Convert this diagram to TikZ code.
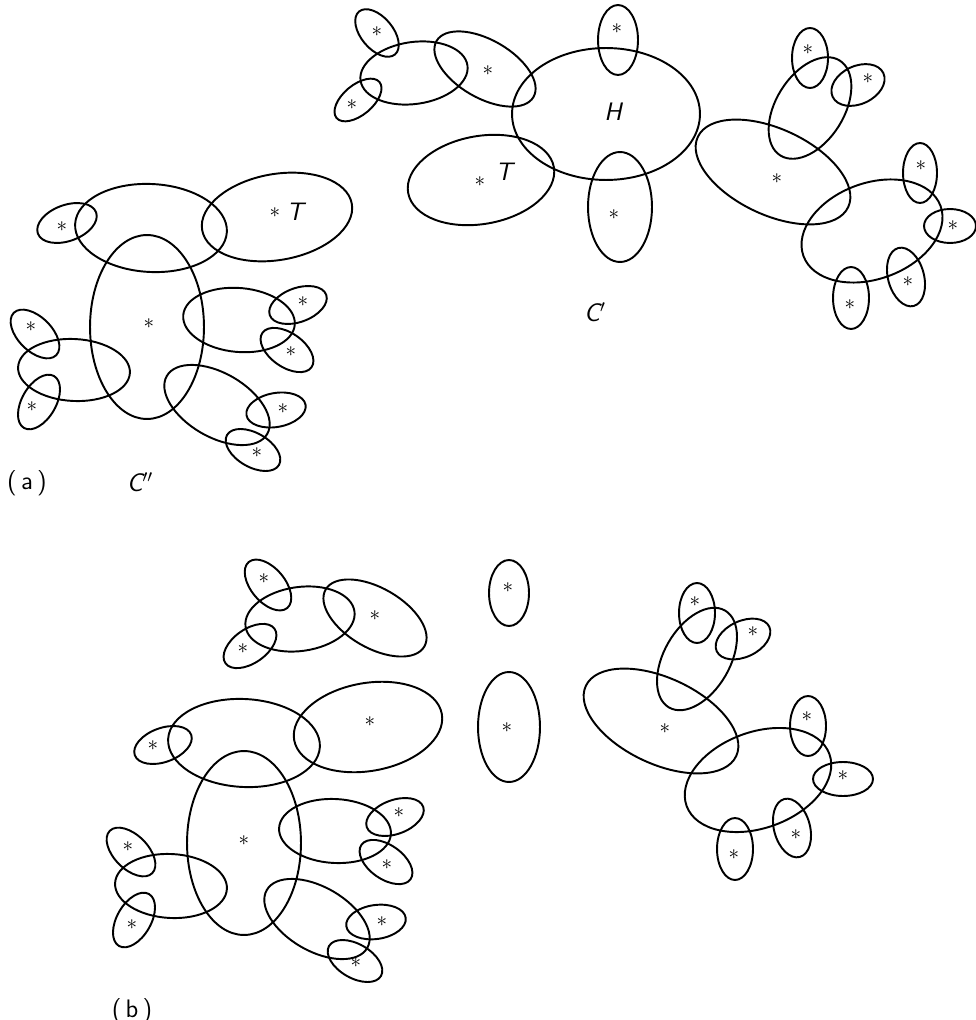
\documentclass[tikz,border=0pt]{standalone}
\usepackage{tikz}
\usetikzlibrary{shapes.geometric}
\tikzset{
  ov/.style={draw, ellipse, inner sep=0pt, line width=1.1pt},
  ast/.style={inner sep=0pt, font=\large},
  lab/.style={inner sep=0pt, font=\sffamily\itshape\Large},
  partlab/.style={inner sep=0pt, font=\sffamily\Large}
}
\newcommand\Ell[6]{\node[ov, minimum width=#4*0.04cm, minimum height=#5*0.04cm, rotate=#6] (#1) at (#2,#3) {};}
\newcommand\Ast[3]{\node[ast] (#1) at (#2,#3) {$\ast$};}
\begin{document}
\begin{tikzpicture}[x=0.02cm, y=-0.02cm]
\useasboundingbox (0,0) rectangle (976,1020);
% ---------- (a) C'
\Ell{a1}{377}{33}{28}{16}{-50} \Ast{sa1}{377}{32}
\Ell{a2}{358}{100}{28}{15}{40} \Ast{sa2}{352}{105}
\Ell{a3}{414}{73}{54}{31}{8}
\Ell{a4}{485}{69}{56}{29}{-30} \Ast{sa4}{488}{71}
\Ell{aH}{606}{114}{94}{66}{0} \node[lab] (H) at (613,112) {H};
\Ell{a6}{618}{40}{20}{35}{0} \Ast{sa6}{617}{29}
\Ell{aT}{481}{180}{74}{44}{10} \Ast{saT}{480}{182} \node[lab] (T1) at (504,172) {T};
\Ell{a8}{620}{207}{32}{55}{0} \Ast{sa8}{614}{215}
\Ell{a9}{773}{172}{83}{43}{-25} \Ast{sa9}{777}{179}
\Ell{a10}{810}{108}{56}{34}{58}
\Ell{a11}{810}{58}{18}{30}{0} \Ast{sa11}{808}{50}
\Ell{a12}{858}{85}{28}{19}{25} \Ast{sa12}{868}{79}
\Ell{a13}{872}{231}{73}{48}{20}
\Ell{a14}{920}{173}{17}{30}{0} \Ast{sa14}{921}{166}
\Ell{a15}{950}{226}{26}{17}{0} \Ast{sa15}{953}{226}
\Ell{a16}{906}{277}{30}{18}{-75} \Ast{sa16}{908}{282}
\Ell{a17}{851}{298}{18}{31}{0} \Ast{sa17}{850}{305}
\node[lab] (Cp) at (595,312) {C$'$};
% ---------- (a) C''
\Ell{c1}{67}{223}{31}{18}{20} \Ast{sc1}{62}{227}
\Ell{c2}{151}{228}{76}{44}{-3}
\Ell{cT}{277}{217}{76}{43}{10} \Ast{scT}{275}{213} \node[lab] (T2) at (295,212) {T};
\Ell{c4}{147}{327}{57}{92}{0} \Ast{sc4}{149}{324}
\Ell{c5}{239}{320}{56}{32}{-5}
\Ell{c6}{298}{305}{30}{17}{20} \Ast{sc6}{303}{302}
\Ell{c7}{287}{350}{30}{17}{-35} \Ast{sc7}{291}{352}
\Ell{c8}{35}{334}{30}{17}{-45} \Ast{sc8}{31}{327}
\Ell{c9}{74}{370}{56}{31}{-3}
\Ell{c10}{39}{402}{30}{17}{60} \Ast{sc10}{32}{407}
\Ell{c11}{217}{405}{58}{32}{-30}
\Ell{c12}{276}{410}{30}{17}{10} \Ast{sc12}{283}{409}
\Ell{c13}{253}{450}{30}{17}{-30} \Ast{sc13}{257}{453}
\node[partlab] (la) at (27,483) {(\,a\,)};
\node[lab] (Cpp) at (140,482) {C$''$};
% ---------- (b)
\Ell{b1}{268}{585}{30}{17}{-50} \Ast{sb1}{264}{579}
\Ell{b2}{300}{619}{55}{32}{8}
\Ell{b3}{250}{646}{30}{17}{35} \Ast{sb3}{243}{649}
\Ell{b4}{375}{618}{57}{30}{-30} \Ast{sb4}{375}{616}
\Ell{b5}{509}{593}{20}{33}{0} \Ast{sb5}{508}{588}
\Ell{b6}{509}{727}{31}{55}{0} \Ast{sb6}{507}{728}
\Ell{b7}{163}{745}{30}{17}{20} \Ast{sb7}{153}{746}
\Ell{b8}{244}{743}{76}{44}{-3}
\Ell{bT}{368}{727}{75}{44}{10} \Ast{sbT}{370}{722}
\Ell{b10}{244}{843}{57}{92}{0} \Ast{sb10}{244}{841}
\Ell{b11}{335}{831}{56}{32}{-3}
\Ell{b12}{395}{817}{30}{17}{20} \Ast{sb12}{399}{813}
\Ell{b13}{386}{862}{30}{17}{-35} \Ast{sb13}{387}{865}
\Ell{b14}{131}{852}{30}{17}{-45} \Ast{sb14}{128}{847}
\Ell{b15}{171}{886}{56}{32}{-3}
\Ell{b16}{134}{920}{30}{17}{60} \Ast{sb16}{132}{925}
\Ell{b17}{317}{919}{58}{32}{-30}
\Ell{b18}{376}{922}{30}{17}{8} \Ast{sb18}{382}{922}
\Ell{b19}{355}{961}{30}{17}{-30} \Ast{sb19}{356}{963}
\Ell{b20}{697}{613}{18}{30}{0} \Ast{sb20}{695}{602}
\Ell{b21}{743}{639}{29}{18}{25} \Ast{sb21}{753}{632}
\Ell{b22}{697}{659}{56}{33}{60}
\Ell{b23}{661}{721}{83}{43}{-25} \Ast{sb23}{665}{729}
\Ell{b24}{758}{780}{76}{48}{20}
\Ell{b25}{808}{726}{18}{30}{0} \Ast{sb25}{807}{717}
\Ell{b26}{843}{779}{30}{17}{0} \Ast{sb26}{843}{776}
\Ell{b27}{792}{828}{30}{18}{-75} \Ast{sb27}{796}{835}
\Ell{b28}{735}{849}{18}{31}{0} \Ast{sb28}{734}{855}
\node[partlab] (lb) at (132,1011) {(\,b\,)};
\end{tikzpicture}
\end{document}
